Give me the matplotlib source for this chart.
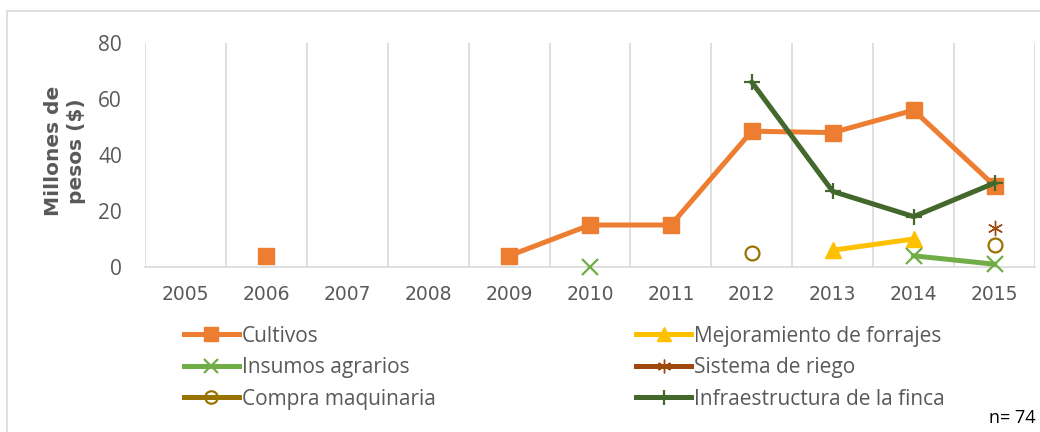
import numpy as np
import matplotlib.pyplot as plt
from matplotlib.patches import Rectangle

years = ['2005', '2006', '2007', '2008', '2009', '2010', '2011', '2012', '2013', '2014', '2015']
nan = np.nan

cultivos = [nan, 4, nan, nan, 4, 15, 15, 48.5, 48, 56, 29]
mejoramiento = [nan, nan, nan, nan, nan, nan, nan, nan, 6, 10, nan]
insumos = [nan, nan, nan, nan, nan, 0, nan, nan, nan, 4, 1]
riego = [nan, nan, nan, nan, nan, nan, nan, nan, nan, nan, 14]
maquinaria = [nan, nan, nan, nan, nan, nan, nan, 5, nan, nan, 8]
infraestructura = [nan, nan, nan, nan, nan, nan, nan, 66, 27, 18, 30]

series = [
    ('Cultivos', cultivos, '#ED7D31', 's', 11, 'full'),
    ('Mejoramiento de forrajes', mejoramiento, '#FFC000', '^', 11, 'full'),
    ('Insumos agrarios', insumos, '#70AD47', 'x', 11, 'full'),
    ('Sistema de riego', riego, '#9E480E', (6, 2, 0), 11, 'full'),
    ('Compra maquinaria', maquinaria, '#997300', 'o', 10, 'none'),
    ('Infraestructura de la finca', infraestructura, '#43682B', '+', 12, 'full'),
]

plt.rcParams['font.family'] = ['Open Sans', 'DejaVu Sans']
gray = '#595959'

fig = plt.figure(figsize=(10.4, 4.32), dpi=100)
fig.patches.append(Rectangle((7 / 1040, -0.01), 1.1, 1 - 11 / 432 + 0.01,
                             transform=fig.transFigure, fill=False,
                             edgecolor='#D9D9D9', linewidth=1.2))
ax = fig.add_axes([145 / 1040, 1 - 267 / 432, (1035 - 145) / 1040, 224 / 432])

x = np.arange(len(years))
handles = []
for name, vals, col, mk, ms, fs in series:
    ln, = ax.plot(x, vals, color=col, lw=3.6, marker=mk, markersize=ms,
                  fillstyle=fs, markeredgewidth=1.6 if fs == 'none' or mk in ('x', '+') else 1,
                  markerfacecolor=col if fs == 'full' else 'none',
                  markeredgecolor=col, label=name, clip_on=False, zorder=3)
    handles.append(ln)

ax.set_xlim(-0.5, len(years) - 0.5)
ax.set_ylim(0, 80)
ax.set_yticks([0, 20, 40, 60, 80])
ax.set_xticks(x)
ax.set_xticklabels(years, family='DejaVu Sans', fontsize=13.5)
ax.set_xticks(np.arange(-0.5, len(years)), minor=True)
ax.grid(axis='x', which='minor', color='#D9D9D9', lw=1.2)
ax.grid(axis='x', which='major', visible=False)
ax.tick_params(axis='both', which='both', length=0, colors=gray)
ax.tick_params(axis='y', labelsize=15, pad=16.5)
ax.tick_params(axis='x', pad=13)
for s in ['top', 'right', 'left']:
    ax.spines[s].set_visible(False)
ax.spines['bottom'].set_color('#D9D9D9')
ax.spines['bottom'].set_linewidth(1.2)

fig.text(65 / 1040, 1 - 151 / 432, 'Millones de\npesos ($)', rotation=90, ha='center', va='center',
         fontsize=14.5, fontweight='bold', color=gray, linespacing=1.3, family='DejaVu Sans')

order = [0, 2, 4, 1, 3, 5]
leg = fig.legend([handles[i] for i in order], [series[i][0] for i in order],
                 ncol=2, loc='upper left', bbox_to_anchor=(165 / 1040, 1 - 307 / 432),
                 frameon=False, fontsize=15, handlelength=2.65, handletextpad=0.15,
                 columnspacing=9.6, labelspacing=0.5, labelcolor=gray, markerscale=0.9)

fig.text(1036 / 1040, 1 - 418 / 432, 'n= 74', ha='right', va='center', fontsize=13, color='black')

fig.savefig('out.png', dpi=100)
